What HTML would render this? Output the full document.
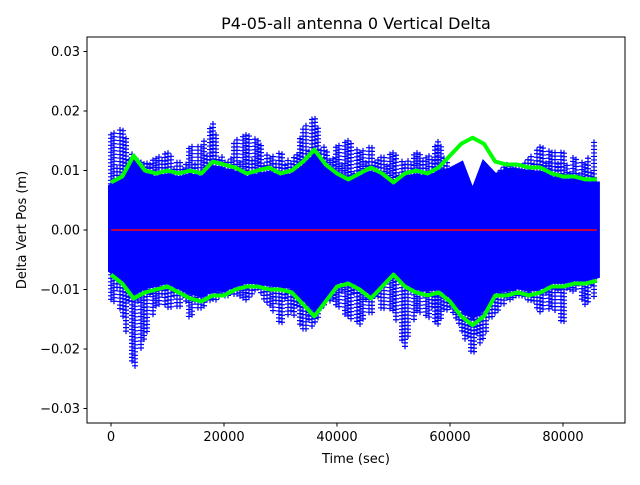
<!DOCTYPE html>
<html><head><meta charset="utf-8"><style>
body{margin:0;background:#fff;}
text{font-family:"DejaVu Sans","Liberation Sans",sans-serif;}
</style></head><body>
<svg id="chart" width="640" height="480" xmlns="http://www.w3.org/2000/svg">
<rect width="640" height="480" fill="#fff"/>
<g id="plot"></g>
<rect x="87" y="37" width="538" height="386" fill="none" stroke="#000" stroke-width="1"/>
<g id="axes"></g>
<text x="356" y="29" font-size="16" text-anchor="middle">P4-05-all antenna 0 Vertical Delta</text>
<text x="356" y="463" font-size="13" text-anchor="middle">Time (sec)</text>
<text x="26" y="230" font-size="13" text-anchor="middle" transform="rotate(-90 26 230)">Delta Vert Pos (m)</text>
</svg>
<script>
const times=[0,2000,4000,6000,8000,10000,12000,14000,16000,18000,20000,22000,24000,26000,28000,30000,32000,34000,36000,38000,40000,42000,44000,46000,48000,50000,52000,54000,56000,58000,60000,62000,64000,66000,68000,70000,72000,74000,76000,78000,80000,82000,84000,86000];
const greenUp=[0.008,0.009,0.0125,0.010,0.0095,0.010,0.0095,0.010,0.0095,0.0115,0.011,0.0105,0.0095,0.010,0.0105,0.0095,0.010,0.0115,0.0135,0.011,0.0095,0.0085,0.0095,0.0105,0.0095,0.008,0.0095,0.010,0.0095,0.0105,0.0125,0.0145,0.0155,0.0145,0.0115,0.011,0.011,0.0105,0.0105,0.0095,0.009,0.009,0.0085,0.0085];
const greenLo=[-0.0075,-0.009,-0.0115,-0.0105,-0.010,-0.0095,-0.0105,-0.0115,-0.012,-0.011,-0.011,-0.010,-0.0095,-0.0095,-0.010,-0.010,-0.0105,-0.0125,-0.0145,-0.012,-0.0095,-0.009,-0.010,-0.0115,-0.0095,-0.0075,-0.0095,-0.0105,-0.011,-0.0105,-0.012,-0.0145,-0.016,-0.0145,-0.011,-0.011,-0.0105,-0.011,-0.0105,-0.0095,-0.0095,-0.009,-0.009,-0.0085];
const blueMax=[0.016,0.017,0.012,0.011,0.012,0.013,0.011,0.014,0.014,0.018,0.011,0.015,0.016,0.015,0.012,0.013,0.011,0.017,0.019,0.013,0.014,0.015,0.013,0.014,0.012,0.013,0.011,0.013,0.012,0.015,0.010,0.011,0.006,0.011,0.009,0.011,0.010,0.012,0.014,0.013,0.013,0.012,0.011,0.016];
const blueMin=[-0.012,-0.014,-0.024,-0.018,-0.013,-0.013,-0.013,-0.015,-0.013,-0.012,-0.011,-0.011,-0.012,-0.010,-0.013,-0.016,-0.014,-0.017,-0.016,-0.012,-0.013,-0.015,-0.016,-0.014,-0.013,-0.014,-0.020,-0.014,-0.015,-0.016,-0.013,-0.017,-0.021,-0.018,-0.014,-0.012,-0.011,-0.012,-0.014,-0.013,-0.016,-0.010,-0.013,-0.011];
const yTicks=[0.03,0.02,0.01,0,-0.01,-0.02,-0.03];
const yTickLabels=["0.03","0.02","0.01","0.00","\u22120.01","\u22120.02","\u22120.03"];
const xTicks=[0,20000,40000,60000,80000];
const xTickLabels=["0","20000","40000","60000","80000"];

const NS="http://www.w3.org/2000/svg";
function xs(t){return 111+t*(452/80000);}
function ys(v){return 230-v*5950;}
const plot=document.getElementById('plot');
const axes=document.getElementById('axes');
function mk(tag,attrs,parent){const e=document.createElementNS(NS,tag);for(const k in attrs)e.setAttribute(k,attrs[k]);parent.appendChild(e);return e;}
function lerp(arr,t){
  const n=times.length;
  if(t<=times[0])return arr[0];
  if(t>=times[n-1])return arr[n-1];
  let i=0;while(times[i+1]<t)i++;
  const f=(t-times[i])/(times[i+1]-times[i]);
  return arr[i]+(arr[i+1]-arr[i])*f;
}

// dense blue band
let pts=[];
times.forEach((t,i)=>pts.push(xs(t)+','+ys(Math.min(blueMax[i],greenUp[i]*0.9))));
for(let i=times.length-1;i>=0;i--)pts.push(xs(times[i])+','+ys(Math.max(blueMin[i],greenLo[i]*0.9)));
const band=mk('polygon',{points:pts.join(' '),fill:'#0000ff',stroke:'#0000ff','stroke-width':6},plot);



// blue + markers: interpolated columns, with spikes near samples
let d='';
const t0=times[0],t1=times[times.length-1];
const step=(t1-t0)/((xs(t1)-xs(t0))/3);
let k=0;
for(let t=t0;t<=t1+1;t+=step,k++){
  const x=xs(t);
  // proximity to nearest sample: full extreme near sample, reduced between
  const idx=Math.round((t-t0)/2000);
  const near=Math.abs(t-times[Math.min(idx,times.length-1)])<700;
  const hi=lerp(blueMax,t), lo=lerp(blueMin,t);
  const gu=lerp(greenUp,t), gl=lerp(greenLo,t);
  const top=near?hi:Math.min(hi,gu*1.05+ (k%3)*0.0007);
  const bot=near?lo:Math.max(lo,gl*1.05- (k%4)*0.0006);
  for(let y=ys(top);y<=ys(bot);y+=3.5){
    d+=`M${x-3},${y}h6M${x},${y-3}v6`;
  }
}
const markers=mk('path',{d:d,stroke:'#0000ff','stroke-width':1.2,fill:'none'},plot);



// green lines
['up','lo'].forEach(k=>{
  const arr=k==='up'?greenUp:greenLo;
  const p=times.map((t,i)=>xs(t)+','+ys(arr[i])).join(' ');
  const l=mk('polyline',{points:p,fill:'none',stroke:'#00ff00','stroke-width':4,'stroke-linejoin':'round'},plot);
  
  
});
// red mean line
const red=mk('line',{x1:xs(times[0]),x2:xs(times[times.length-1]),y1:ys(0),y2:ys(0),stroke:'#ff0000','stroke-width':1.5},plot);



// ticks
yTicks.forEach((v,i)=>{
  const y=ys(v);
  const tk=mk('line',{x1:83.5,x2:87,y1:y,y2:y,stroke:'#000'},axes);
  
  
  const tx=mk('text',{x:80,y:y+4.5,'font-size':13,'text-anchor':'end'},axes);
  tx.textContent=yTickLabels[i];
  
  
});
xTicks.forEach((v,i)=>{
  const x=xs(v);
  const tk=mk('line',{x1:x,x2:x,y1:423,y2:426.5,stroke:'#000'},axes);
  
  
  const tx=mk('text',{x:x,y:441,'font-size':13,'text-anchor':'middle'},axes);
  tx.textContent=xTickLabels[i];
  
  
});
</script>
</body></html>
